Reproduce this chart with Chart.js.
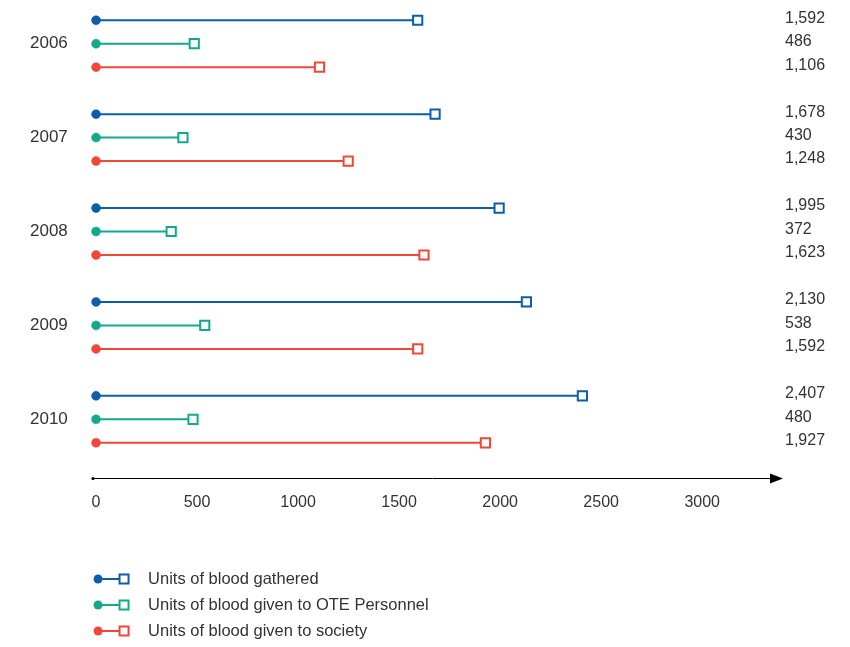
<!DOCTYPE html>
<html>
<head>
<meta charset="utf-8">
<script src="https://cdn.jsdelivr.net/npm/chart.js@4/dist/chart.umd.min.js"></script>
<style>
  html, body { margin: 0; padding: 0; background: #fff; }
  #wrap { position: relative; width: 850px; height: 647px; }
</style>
</head>
<body>
<div id="wrap"><canvas id="c"></canvas></div>
<script>
// Blood donation figures per year
const years = ['2006', '2007', '2008', '2009', '2010'];
const gathered = [1592, 1678, 1995, 2130, 2407];
const toPersonnel = [486, 430, 372, 538, 480];
const toSociety = [1106, 1248, 1623, 1592, 1927];
const seriesNames = [
  'Units of blood gathered',
  'Units of blood given to OTE Personnel',
  'Units of blood given to society'
];
const seriesColors = ['#0d5daa', '#15a98b', '#ef473a'];
const xTickValues = [0, 500, 1000, 1500, 2000, 2500, 3000];

const FONT = 'Liberation Sans, Arial, sans-serif';
const TEXT = '#333333';
const ROWS_PER_YEAR = 4;

const allSeries = [gathered, toPersonnel, toSociety];

// Each year is a group of three rows; every row is a segment from 0 to the value
function rowOf(g, s) { return g * ROWS_PER_YEAR + s; }

const datasets = allSeries.map((vals, s) => ({
  label: seriesNames[s],
  data: years.flatMap((yr, g) => [
    { x: 0, y: rowOf(g, s) },
    { x: vals[g], y: rowOf(g, s) },
    { x: null, y: null }
  ]),
  showLine: true,
  spanGaps: false,
  borderColor: seriesColors[s],
  borderWidth: 2,
  clip: false,
  pointStyle: ctx => (ctx.raw && ctx.raw.x === 0 ? 'circle' : 'rect'),
  pointRadius: ctx => (ctx.raw && ctx.raw.x === 0 ? 4.5 : 6.5),
  pointHoverRadius: ctx => (ctx.raw && ctx.raw.x === 0 ? 4.5 : 6.5),
  pointBackgroundColor: ctx => (ctx.raw && ctx.raw.x === 0 ? seriesColors[s] : '#ffffff'),
  pointBorderColor: seriesColors[s],
  pointBorderWidth: ctx => (ctx.raw && ctx.raw.x === 0 ? 0.5 : 2)
}));

// Value labels, the arrowed x axis line and the legend below the chart
const decorations = {
  id: 'decorations',
  afterDatasetsDraw(chart) {
    const { ctx, chartArea, scales } = chart;
    const xs = scales.x, ys = scales.y;
    ctx.save();

    // value labels on the right
    ctx.font = '16px ' + FONT;
    ctx.fillStyle = TEXT;
    ctx.textAlign = 'left';
    ctx.textBaseline = 'middle';
    allSeries.forEach((vals, s) => {
      vals.forEach((v, g) => {
        const y = ys.getPixelForValue(rowOf(g, s)) - 2;
        ctx.fillText(v.toLocaleString('en-US'), chartArea.right + 2, y);
      });
    });

    // axis line with arrow head
    const ay = chartArea.bottom;
    const left = chartArea.left;
    const tip = chartArea.right;
    ctx.strokeStyle = '#000';
    ctx.fillStyle = '#000';
    ctx.lineWidth = 1;
    ctx.beginPath();
    ctx.moveTo(left, ay + 0.5);
    ctx.lineTo(tip - 10, ay + 0.5);
    ctx.stroke();
    ctx.beginPath();
    ctx.arc(left + 1, ay + 0.5, 1.6, 0, Math.PI * 2);
    ctx.fill();
    ctx.beginPath();
    ctx.moveTo(tip, ay + 0.5);
    ctx.lineTo(tip - 13, ay - 4.5);
    ctx.lineTo(tip - 13, ay + 5.5);
    ctx.closePath();
    ctx.fill();

    // legend
    const lx0 = xs.getPixelForValue(0) + 2;
    const lx1 = lx0 + 26;
    seriesNames.forEach((name, s) => {
      const y = chartArea.bottom + 101 + s * 26;
      const c = seriesColors[s];
      ctx.strokeStyle = c;
      ctx.lineWidth = 2;
      ctx.beginPath();
      ctx.moveTo(lx0, y);
      ctx.lineTo(lx1, y);
      ctx.stroke();
      ctx.fillStyle = c;
      ctx.beginPath();
      ctx.arc(lx0, y, 4.5, 0, Math.PI * 2);
      ctx.fill();
      ctx.fillStyle = '#fff';
      ctx.fillRect(lx1 - 4.5, y - 4.5, 9, 9);
      ctx.strokeRect(lx1 - 4.5, y - 4.5, 9, 9);
      ctx.fillStyle = TEXT;
      ctx.font = '16.5px ' + FONT;
      ctx.textAlign = 'left';
      ctx.textBaseline = 'middle';
      ctx.fillText(name, lx0 + 50, y);
    });
    ctx.restore();
  }
};

new Chart(document.getElementById('c'), {
  type: 'scatter',
  data: { datasets },
  plugins: [decorations],
  options: {
    responsive: true,
    maintainAspectRatio: false,
    animation: false,
    layout: { padding: { top: 7, right: 67, bottom: 129, left: 30 } },
    plugins: {
      legend: { display: false },
      tooltip: { enabled: false }
    },
    scales: {
      x: {
        type: 'linear',
        min: -20,
        max: 3400,
        grid: { display: false },
        border: { display: false },
        afterBuildTicks: scale => { scale.ticks = xTickValues.map(v => ({ value: v })); },
        afterFit: scale => { scale.height = 40; },
        ticks: {
          padding: 7,
          color: TEXT,
          font: { family: FONT, size: 16 },
          callback: v => String(v)
        }
      },
      y: {
        type: 'linear',
        reverse: true,
        min: -0.5,
        max: 19.5,
        grid: { display: false },
        border: { display: false },
        afterBuildTicks: scale => {
          scale.ticks = years.map((yr, g) => ({ value: rowOf(g, 1) }));
        },
        afterFit: scale => { scale.width = 62; },
        ticks: {
          padding: 0,
          crossAlign: 'far',
          color: TEXT,
          font: { family: FONT, size: 17, lineHeight: 0.8 },
          callback: v => years[Math.round((v - 1) / ROWS_PER_YEAR)]
        }
      }
    }
  }
});
</script>
</body>
</html>
